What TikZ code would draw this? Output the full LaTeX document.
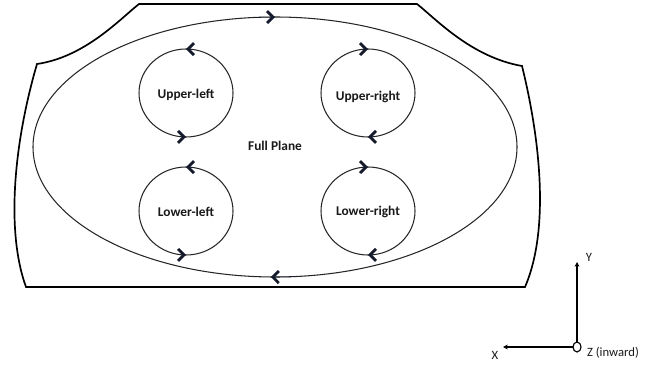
\documentclass[tikz,border=0pt]{standalone}
\usepackage{fontspec}
\setmainfont{Carlito}
\usetikzlibrary{arrows.meta}
\definecolor{navy}{HTML}{141A2C}
\begin{document}
\begin{tikzpicture}[x=0.025cm,y=0.025cm,>={Straight Barb[length=1.5mm,width=3mm,line width=2pt]},
	lbl/.style={font=\bfseries\fontsize{9.5}{11}\selectfont,text=black!90},
	axlbl/.style={font=\fontsize{9}{11}\selectfont,text=black!90}]
						\useasboundingbox (0,0) rectangle (656,369);
						% outer frame
						\draw[line width=1.2pt] (139,365) -- (417,365) .. controls (436,350) and (471,312) .. (522,303)
							.. controls (540,230) and (550,140) .. (525,82) -- (26,82)
							.. controls (5,140) and (15,230) .. (37,305) .. controls (85,312) and (120,350) .. cycle;
						% full plane
						\coordinate (fp) at (275,222);
						\draw[black!85,line width=0.75pt] (fp) ellipse(242 and 130);
						\node[lbl] (fplbl) at (275,223){Full Plane};
						\draw[navy,->,domain=95:90] plot({275+242*cos(\x)},{222+130*sin(\x)});
						\draw[navy,->,domain=275:269] plot({275+242*cos(\x)},{222+130*sin(\x)});
						% quadrants
						\coordinate (ul) at (186,276);
						\coordinate (ur) at (368,276);
						\coordinate (ll) at (186,158);
						\coordinate (lr) at (368,158);
						\foreach \c in {ul,ur,ll,lr}
							\draw[black!85,line width=0.75pt] (\c) ellipse(47 and 44);
						\node[lbl] (ullbl) at (186,274){Upper-left};
						\node[lbl] (urlbl) at (368,272){Upper-right};
						\node[lbl] (lllbl) at (186,157){Lower-left};
						\node[lbl] (lrlbl) at (368,157){Lower-right};
						% counterclockwise
						\draw[navy,->,domain=82:90] plot({186+47*cos(\x)},{276+44*sin(\x)});
						\draw[navy,->,domain=262:270] plot({186+47*cos(\x)},{276+44*sin(\x)});
						\draw[navy,->,domain=82:90] plot({186+47*cos(\x)},{158+44*sin(\x)});
						\draw[navy,->,domain=262:270] plot({186+47*cos(\x)},{158+44*sin(\x)});
						% clockwise
						\draw[navy,->,domain=98:90] plot({368+47*cos(\x)},{276+44*sin(\x)});
						\draw[navy,->,domain=278:270] plot({368+47*cos(\x)},{276+44*sin(\x)});
						\draw[navy,->,domain=98:90] plot({368+47*cos(\x)},{158+44*sin(\x)});
						\draw[navy,->,domain=278:270] plot({368+47*cos(\x)},{158+44*sin(\x)});
						% axes
						\coordinate (o) at (577,22);
						\coordinate (ytip) at (577,107);
						\coordinate (xtip) at (503,22);
						\draw[-{Stealth[length=1.2mm,width=1.2mm]},line width=0.75pt] (o) -- (ytip);
						\draw[-{Stealth[length=1.2mm,width=1.2mm]},line width=0.75pt] (o) -- (xtip);
						\draw[line width=0.8pt,fill=white] (o) ellipse(4 and 5);
						\node[axlbl] (ylbl) at (589,112){Y};
						\node[axlbl] (xlbl) at (495,14){X};
						\node[axlbl] (zlbl) at (613,16){Z (inward)};
					\end{tikzpicture}
\end{document}
